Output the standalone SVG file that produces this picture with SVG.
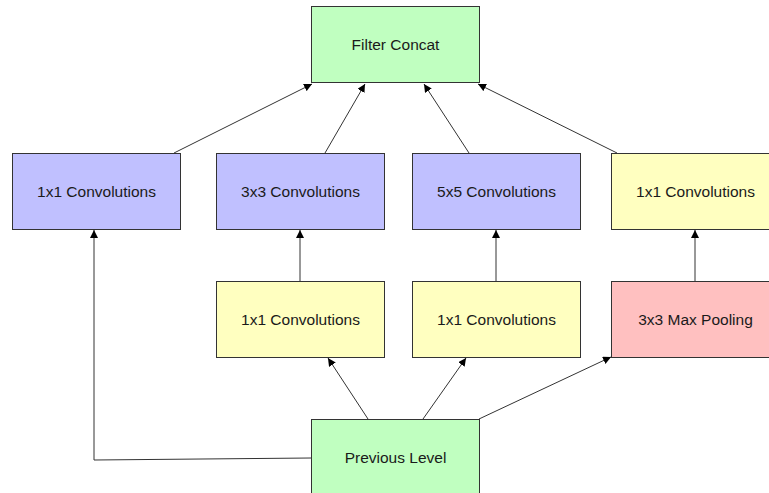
<svg xmlns="http://www.w3.org/2000/svg" width="769" height="493" viewBox="0 0 769 493">
  <style>
    .box { stroke: #333; stroke-width: 1; }
    .green { fill: #c0ffc0; }
    .blue { fill: #c0c0ff; }
    .yellow { fill: #ffffc0; }
    .pink { fill: #ffc0c0; }
    .label { font-family: "Liberation Sans", Arial, sans-serif; font-size: 15.5px; fill: #1a1a1a; text-anchor: middle; dominant-baseline: central; }
    .edge { stroke: #333; stroke-width: 1; fill: none; marker-end: url(#arrow); }
  </style>
  <defs>
    <marker id="arrow" viewBox="0 0 10 10" refX="10" refY="5" markerWidth="8" markerHeight="8" markerUnits="userSpaceOnUse" orient="auto">
      <path d="M0,0 L10,5 L0,10 z" fill="#000"/>
    </marker>
  </defs>
  <rect width="769" height="493" fill="#fff"/>

  <g id="connectors">
    <line class="edge" x1="174" y1="153" x2="312" y2="84"/>
    <line class="edge" x1="325" y1="153" x2="365" y2="84"/>
    <line class="edge" x1="469" y1="153" x2="424" y2="84"/>
    <line class="edge" x1="617" y1="153" x2="478" y2="84"/>
    <line class="edge" x1="300" y1="281" x2="300" y2="230"/>
    <line class="edge" x1="496" y1="281" x2="496" y2="230"/>
    <line class="edge" x1="695" y1="281" x2="695" y2="230"/>
    <line class="edge" x1="368" y1="419" x2="328" y2="358"/>
    <line class="edge" x1="423" y1="419" x2="466" y2="358"/>
    <line class="edge" x1="479" y1="419" x2="611" y2="357"/>
    <polyline class="edge" points="311,458 94,460 94,230"/>
  </g>

  <g id="filter-concat">
    <rect class="box green" x="311.5" y="6.5" width="168" height="76"/>
    <text class="label" x="395.5" y="44.5">Filter Concat</text>
  </g>
  <g id="conv1x1-a">
    <rect class="box blue" x="12.5" y="153.5" width="168" height="76"/>
    <text class="label" x="96.5" y="191.5">1x1 Convolutions</text>
  </g>
  <g id="conv3x3">
    <rect class="box blue" x="216.5" y="153.5" width="168" height="76"/>
    <text class="label" x="300.5" y="191.5">3x3 Convolutions</text>
  </g>
  <g id="conv5x5">
    <rect class="box blue" x="412.5" y="153.5" width="168" height="76"/>
    <text class="label" x="496.5" y="191.5">5x5 Convolutions</text>
  </g>
  <g id="conv1x1-d">
    <rect class="box yellow" x="611.5" y="153.5" width="168" height="76"/>
    <text class="label" x="695.5" y="191.5">1x1 Convolutions</text>
  </g>
  <g id="conv1x1-b">
    <rect class="box yellow" x="216.5" y="281.5" width="168" height="76"/>
    <text class="label" x="300.5" y="319.5">1x1 Convolutions</text>
  </g>
  <g id="conv1x1-c">
    <rect class="box yellow" x="412.5" y="281.5" width="168" height="76"/>
    <text class="label" x="496.5" y="319.5">1x1 Convolutions</text>
  </g>
  <g id="max-pool">
    <rect class="box pink" x="611.5" y="281.5" width="168" height="76"/>
    <text class="label" x="695.5" y="319.5">3x3 Max Pooling</text>
  </g>
  <g id="previous-level">
    <rect class="box green" x="311.5" y="419.5" width="168" height="76"/>
    <text class="label" x="395.5" y="457.5">Previous Level</text>
  </g>
</svg>
